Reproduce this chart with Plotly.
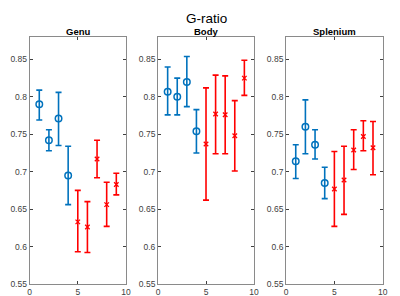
import plotly.graph_objects as go

x_vals = [1, 2, 3, 4, 5, 6, 7, 8, 9]
panels = ["Genu", "Body", "Splenium"]

# centre, upper end, lower end of each error bar
genu_mean = [0.790, 0.742, 0.771, 0.695, 0.633, 0.626, 0.717, 0.656, 0.683]
genu_top = [0.809, 0.756, 0.806, 0.734, 0.675, 0.660, 0.742, 0.686, 0.698]
genu_bot = [0.769, 0.728, 0.735, 0.656, 0.593, 0.592, 0.692, 0.627, 0.669]

body_mean = [0.807, 0.800, 0.820, 0.754, 0.737, 0.777, 0.776, 0.748, 0.825]
body_top = [0.840, 0.825, 0.854, 0.783, 0.812, 0.829, 0.828, 0.795, 0.849]
body_bot = [0.776, 0.776, 0.787, 0.725, 0.662, 0.724, 0.724, 0.701, 0.802]

splen_mean = [0.714, 0.760, 0.736, 0.685, 0.677, 0.689, 0.729, 0.747, 0.732]
splen_top = [0.736, 0.796, 0.756, 0.706, 0.727, 0.734, 0.756, 0.768, 0.767]
splen_bot = [0.691, 0.724, 0.717, 0.664, 0.627, 0.643, 0.703, 0.728, 0.696]

y_ticks = [0.55, 0.6, 0.65, 0.7, 0.75, 0.8, 0.85]
y_tick_text = ["0.55", "0.6", "0.65", "0.7", "0.75", "0.8", "0.85"]
x_ticks = [0, 5, 10]

blue = "#0072BD"
red = "#FF0000"
n_blue = 4

data = [(genu_mean, genu_top, genu_bot), (body_mean, body_top, body_bot), (splen_mean, splen_top, splen_bot)]

fig = go.Figure()
x_domains = [[20 / 400, 118 / 400], [150.7 / 400, 248.3 / 400], [281 / 400, 379.3 / 400]]
y_domain = [1 - 280.7 / 296, 1 - 29.5 / 296]

for i, (m, t, b) in enumerate(data):
    suffix = "" if i == 0 else str(i + 1)
    groups = [(slice(0, n_blue), blue, "circle-open", 6.5, 1.5), (slice(n_blue, None), red, "x-thin-open", 4.5, 1.3)]
    for sl, col, sym, sz, lw in groups:
        xs = x_vals[sl]
        ms = m[sl]
        up = [tt - mm for tt, mm in zip(t[sl], ms)]
        dn = [mm - bb for mm, bb in zip(ms, b[sl])]
        fig.add_trace(go.Scatter(
            x=xs, y=ms, mode="markers",
            xaxis="x" + suffix, yaxis="y" + suffix,
            marker=dict(symbol=sym, size=sz, color=col, line=dict(color=col, width=lw)),
            error_y=dict(type="data", symmetric=False, array=up, arrayminus=dn,
                         color=col, thickness=1.6, width=3),
            showlegend=False,
        ))
    axstyle = dict(showgrid=False, zeroline=False, showline=True, mirror="ticks",
                   linecolor="#8a8a8a", linewidth=1, ticks="inside", ticklen=3,
                   tickcolor="#404040", tickfont=dict(family="Liberation Sans, Arial", size=8.5, color="#404040"))
    fig.layout["xaxis" + suffix] = dict(domain=x_domains[i], range=[0, 10], tickvals=x_ticks,
                                        anchor="y" + suffix, **axstyle)
    fig.layout["yaxis" + suffix] = dict(domain=y_domain, range=[0.55, 0.88], tickvals=y_ticks,
                                        ticktext=y_tick_text, anchor="x" + suffix, **axstyle)
    fig.add_annotation(text="<b>" + panels[i] + "</b>", x=sum(x_domains[i]) / 2, y=1 - 23.5 / 296,
                       xref="paper", yref="paper", showarrow=False, xanchor="center", yanchor="middle",
                       font=dict(family="Liberation Sans, Arial", size=9.5, color="#000000"))

fig.add_annotation(text="G-ratio", x=200 / 400, y=1 - 11 / 296, xref="paper", yref="paper",
                   showarrow=False, xanchor="center", yanchor="middle",
                   font=dict(family="Liberation Sans, Arial", size=13.5, color="#000000"))

fig.update_layout(width=400, height=296, margin=dict(l=0, r=0, t=0, b=0),
                  paper_bgcolor="white", plot_bgcolor="white")
fig.write_html("out.html")
